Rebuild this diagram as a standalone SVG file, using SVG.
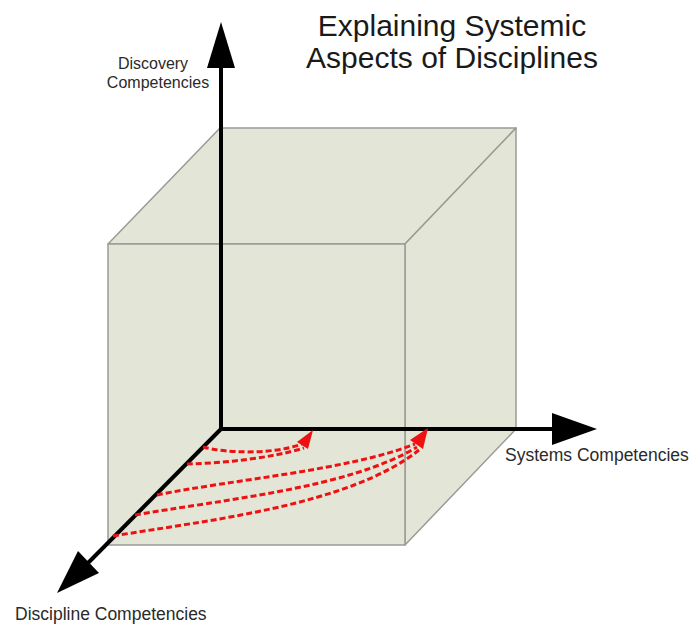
<svg xmlns="http://www.w3.org/2000/svg" width="693" height="625" viewBox="0 0 693 625">
<style>
.face{fill:#e3e5d7;stroke:#9a9a96;stroke-width:1.5;stroke-linejoin:round}
.axis{stroke:#000;stroke-width:4;fill:none}
.head{fill:#000}
.flow{stroke:#ee1111;stroke-width:3;stroke-dasharray:6 3;fill:none}
.rhead{fill:#ee1111}
text{font-family:"Liberation Sans",Arial,sans-serif}
.title{font-size:30px;fill:#1a1a1a;text-anchor:middle}
.lbl{fill:#2a2a2a}
</style>
<rect width="693" height="625" fill="#fff"/>
<g id="cube">
<polygon class="face" points="108,244 220,128 516,128 405,244"/>
<polygon class="face" points="405,244 516,128 516,429 405,545"/>
<rect class="face" x="108" y="244" width="297" height="301"/>
</g>
<g id="connectors">
<line class="axis" x1="221" y1="431" x2="221" y2="64"/>
<polygon class="head" points="221,22 207,68 235,68"/>
<line class="axis" x1="219" y1="429" x2="556" y2="429"/>
<polygon class="head" points="597,429 552,413 552,445"/>
<line class="axis" x1="222" y1="428" x2="86" y2="565"/>
<polygon class="head" points="57,593 78,551 99,573"/>
<path class="flow" d="M203,447 C225,453 272,455 302,444"/>
<path class="flow" d="M187,464 C225,463 272,458 304,448"/>
<polygon class="rhead" points="313,430 297,442 308,449"/>
<path class="flow" d="M157,495 C230,480 350,470 415,444"/>
<path class="flow" d="M135,515 C220,500 350,488 417,447"/>
<path class="flow" d="M113,536 C210,520 350,505 419,450"/>
<polygon class="rhead" points="428,428 410,440 423,449"/>
</g>
<g id="title">
<text class="title" x="452" y="36">Explaining Systemic</text>
<text class="title" x="452" y="68">Aspects of Disciplines</text>
</g>
<g id="label-discovery">
<text class="lbl" x="153" y="69" font-size="16" text-anchor="middle">Discovery</text>
<text class="lbl" x="158" y="88" font-size="16" text-anchor="middle">Competencies</text>
</g>
<g id="label-systems">
<text class="lbl" x="505" y="461" font-size="17.5">Systems Competencies</text>
</g>
<g id="label-discipline">
<text class="lbl" x="15" y="620" font-size="17.5">Discipline Competencies</text>
</g>
</svg>
